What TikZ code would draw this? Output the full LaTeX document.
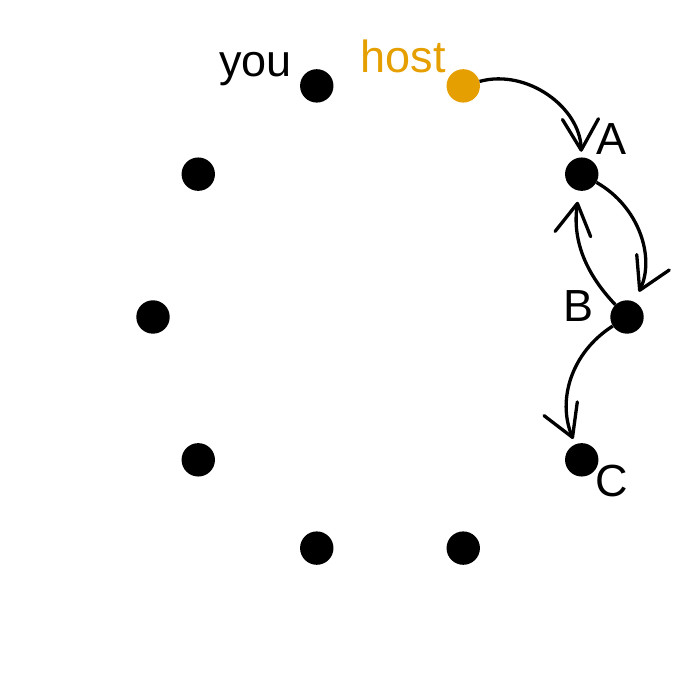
\documentclass[tikz,border=0pt]{standalone}
\usepackage{fontspec}
\setmainfont{Liberation Sans}
\usetikzlibrary{arrows.meta}
\definecolor{hostorange}{HTML}{E69F00}
\begin{document}
\begin{tikzpicture}[x=1pt,y=1pt,
  dot/.style={circle,fill=black,draw=none,inner sep=0pt,minimum size=33.4pt},
  lbl/.style={inner sep=0pt,font=\fontsize{45pt}{45pt}\selectfont},
  arr/.style={line width=3.3pt,-{Straight Barb[length=31pt,width=36pt,round]}}]
\useasboundingbox (0,0) rectangle (700,700);
\def\cx{390pt}\def\cy{383pt}
\node[dot] (p0) at ([shift={(\cx,\cy)}]0:237pt and 243pt) {};
\node[dot] (p1) at ([shift={(\cx,\cy)}]36:237pt and 243pt) {};
\node[dot,fill=hostorange] (p2) at ([shift={(\cx,\cy)}]72:237pt and 243pt) {};
\node[dot] (p3) at ([shift={(\cx,\cy)}]108:237pt and 243pt) {};
\node[dot] (p4) at ([shift={(\cx,\cy)}]144:237pt and 243pt) {};
\node[dot] (p5) at ([shift={(\cx,\cy)}]180:237pt and 243pt) {};
\node[dot] (p6) at ([shift={(\cx,\cy)}]216:237pt and 243pt) {};
\node[dot] (p7) at ([shift={(\cx,\cy)}]252:237pt and 243pt) {};
\node[dot] (p8) at ([shift={(\cx,\cy)}]288:237pt and 243pt) {};
\node[dot] (p9) at ([shift={(\cx,\cy)}]324:237pt and 243pt) {};
\node[lbl,anchor=base east] (lyou) at (292,623) {you};
\node[lbl,anchor=base east,text=hostorange] (lhost) at (446,627) {host};
\node[lbl,anchor=base west] (lA) at (596,545) {A};
\node[lbl,anchor=base east] (lB) at (594,378) {B};
\node[lbl,anchor=base west] (lC) at (595,203) {C};
\draw[arr,shorten >=5.5pt] (p2) to[bend left=52] (p1);
\draw[arr,shorten >=11pt] (p1) to[bend left=43] (p0);
\draw[arr,shorten >=11pt] (p0) to[bend left=26] (p1);
\draw[arr,shorten >=5.7pt] (p0) to[bend right=40] (p9);
\end{tikzpicture}
\end{document}
